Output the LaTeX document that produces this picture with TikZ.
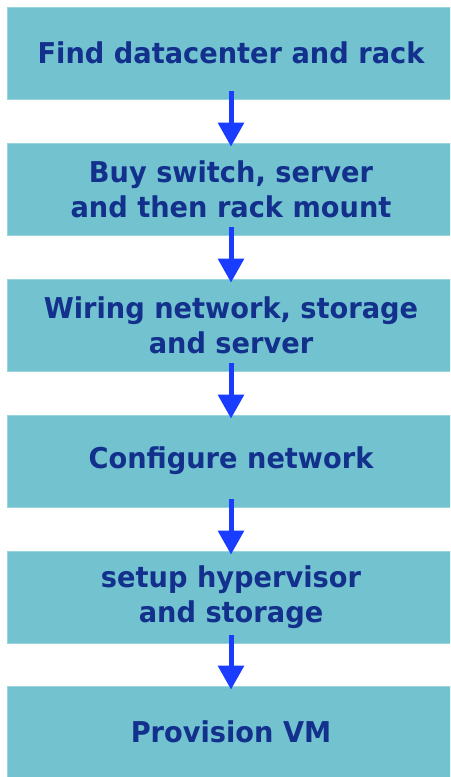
\documentclass[tikz,border=0pt]{standalone}
\usepackage{fontspec}
\setmainfont{DejaVu Sans}[FakeStretch=0.95]
\usepackage{tikz}
\usetikzlibrary{arrows.meta, positioning}

\begin{document}
\begin{tikzpicture}[
  x=0.75pt, y=-0.75pt,
  box/.style={fill=cbox, draw=cedge, line width=0.6pt, minimum width=336pt,
              minimum height=69pt, align=center, text=ctext,
              font=\fontsize{21.5}{26.25}\selectfont\bfseries, inner sep=0pt},
  arr/.style={-{Triangle[length=18pt,width=19pt]}, line width=3.75pt, draw=carrow},
]
\definecolor{cbox}{HTML}{72C3CF}
\definecolor{cedge}{HTML}{9AD5DE}
\definecolor{ctext}{HTML}{12308C}
\definecolor{carrow}{HTML}{1A3CFF}
\useasboundingbox (0,0) rectangle (450,777);
\clip (0,0) rectangle (450,777);
\node[box] (a) at (231,53) {Find datacenter and rack};
\node[box] (b) at (231,189) {Buy switch, server\\and then rack mount};
\node[box] (c) at (231,325) {Wiring network, storage\\and server};
\node[box] (d) at (231,461) {Configure network};
\node[box] (e) at (231,597) {setup hypervisor\\and storage};
\node[box] (f) at (231,732) {Provision VM};
\draw[arr] ([yshift=6pt]a.south) -- ([yshift=-3pt]b.north);
\draw[arr] ([yshift=6pt]b.south) -- ([yshift=-3pt]c.north);
\draw[arr] ([yshift=6pt]c.south) -- ([yshift=-3pt]d.north);
\draw[arr] ([yshift=6pt]d.south) -- ([yshift=-3pt]e.north);
\draw[arr] ([yshift=6pt]e.south) -- ([yshift=-3pt]f.north);
\end{tikzpicture}
\end{document}
